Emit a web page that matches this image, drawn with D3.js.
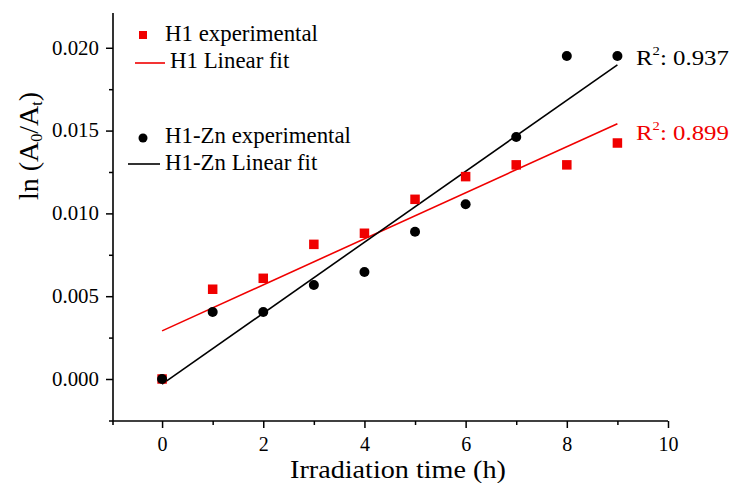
<!DOCTYPE html>
<html>
<head>
<meta charset="utf-8">
<script src="https://cdn.jsdelivr.net/npm/d3@7"></script>
<style>
  body { margin: 0; background: #fff; }
  svg { display: block; }
  text { font-family: "Liberation Serif", "Times New Roman", serif; }
</style>
</head>
<body>
<svg id="chart" width="733" height="483"></svg>
<script>
// Irradiation time (h) and ln(A0/At) for the two samples
const hours = [0, 1, 2, 3, 4, 5, 6, 7, 8, 9];
const h1Values = [0.0000, 0.00542, 0.00608, 0.00813, 0.00880, 0.01085, 0.01222, 0.01293, 0.01293, 0.01425];
const h1ZnValues = [0.0000, 0.00405, 0.00405, 0.00568, 0.00646, 0.00889, 0.01055, 0.01461, 0.01950, 0.01950];

const xTicks = [0, 2, 4, 6, 8, 10];
const xMinorTicks = [1, 3, 5, 7, 9];
const yTicks = [0.000, 0.005, 0.010, 0.015, 0.020];
const yMinorTicks = [0.0025, 0.0075, 0.0125, 0.0175];

const seriesNames = ["H1 experimental", "H1 Linear fit", "H1-Zn experimental", "H1-Zn Linear fit"];
const r2Values = ["0.937", "0.899"];

const RED = "#f00000";
const BLACK = "#000";

const svg = d3.select("#chart");

const x = d3.scaleLinear().domain([-0.97, 10]).range([113, 668]);
const y = d3.scaleLinear().domain([-0.0025, 0.0221]).range([420.4, 13]);
const axisY = 421;

// Scales a text group horizontally so its width equals `target`
function stretch(g, target) {
  const w = g.select("text").node().getBBox().width;
  const s = target / w;
  g.attr("transform", g.attr("data-t") + ` scale(${s},1)`);
}
function label(parent, px, py, target) {
  const g = parent.append("g").attr("data-t", `translate(${px},${py})`)
    .attr("transform", `translate(${px},${py})`);
  const t = g.append("text").attr("x", 0).attr("y", 0);
  return { g, t, fit: () => stretch(g, target) };
}

// Least-squares line through a series
function linearFit(xs, ys) {
  const mx = d3.mean(xs), my = d3.mean(ys);
  let sxy = 0, sxx = 0;
  xs.forEach((xv, i) => { sxy += (xv - mx) * (ys[i] - my); sxx += (xv - mx) ** 2; });
  const slope = sxy / sxx;
  return { slope, intercept: my - slope * mx };
}

// ---- axes ----
const yAxis = svg.append("g").attr("transform", "translate(113,0)")
  .call(d3.axisLeft(y).tickValues(yTicks).tickFormat(d3.format(".3f"))
    .tickSize(7).tickSizeOuter(0).tickPadding(7));
yAxis.select(".domain").remove();
yAxis.selectAll("line").attr("stroke", BLACK).attr("stroke-width", 1.5);
yAxis.selectAll("text").attr("font-size", 20).attr("fill", BLACK)
  .attr("font-family", "Liberation Serif")
  .attr("textLength", 47).attr("lengthAdjust", "spacingAndGlyphs");

const yMinorAxis = svg.append("g").attr("transform", "translate(113,0)")
  .call(d3.axisLeft(y).tickValues(yMinorTicks).tickFormat("").tickSize(4).tickSizeOuter(0));
yMinorAxis.select(".domain").remove();
yMinorAxis.selectAll("line").attr("stroke", BLACK).attr("stroke-width", 1.5);

const xAxis = svg.append("g").attr("transform", `translate(0,${axisY})`)
  .call(d3.axisBottom(x).tickValues(xTicks).tickFormat(d3.format("d"))
    .tickSize(7).tickSizeOuter(0).tickPadding(9));
xAxis.select(".domain").remove();
xAxis.selectAll("line").attr("stroke", BLACK).attr("stroke-width", 1.5);
xAxis.selectAll("text").attr("font-size", 20).attr("fill", BLACK)
  .attr("font-family", "Liberation Serif");

const xMinorAxis = svg.append("g").attr("transform", `translate(0,${axisY})`)
  .call(d3.axisBottom(x).tickValues(xMinorTicks).tickFormat("").tickSize(4).tickSizeOuter(0));
xMinorAxis.select(".domain").remove();
xMinorAxis.selectAll("line").attr("stroke", BLACK).attr("stroke-width", 1.5);

// axis lines (crossing slightly at the origin corner)
svg.append("line").attr("x1", 113).attr("x2", 113).attr("y1", 13).attr("y2", axisY + 4)
  .attr("stroke", BLACK).attr("stroke-width", 1.6);
svg.append("line").attr("x1", 109).attr("x2", 668).attr("y1", axisY).attr("y2", axisY)
  .attr("stroke", BLACK).attr("stroke-width", 1.6);

// axis titles
const xt = label(svg, 290, 478, 216);
xt.t.attr("font-size", 26).text("Irradiation time (h)");
xt.fit();

const yt = svg.append("text")
  .attr("transform", "translate(38,146) rotate(-90)")
  .attr("text-anchor", "middle").attr("font-size", 28);
yt.append("tspan").text("ln (A");
yt.append("tspan").attr("font-size", 16).attr("dy", 4).text("0");
yt.append("tspan").attr("dy", -4).text("/A");
yt.append("tspan").attr("font-size", 16).attr("dy", 4).text("t");
yt.append("tspan").attr("dy", -4).text(")");

// ---- fit lines ----
const fitH1 = linearFit(hours, h1Values);
const fitZn = linearFit(hours, h1ZnValues);
const x0 = d3.min(hours), x1 = d3.max(hours);
[[fitH1, RED], [fitZn, BLACK]].forEach(([f, c]) => {
  svg.append("line")
    .attr("x1", x(x0)).attr("y1", y(f.intercept + f.slope * x0))
    .attr("x2", x(x1)).attr("y2", y(f.intercept + f.slope * x1))
    .attr("stroke", c).attr("stroke-width", 1.6);
});

// ---- markers ----
const sq = 9.5;
svg.append("g").selectAll("rect").data(hours).join("rect")
  .attr("x", (d) => x(d) - sq / 2).attr("y", (d, i) => y(h1Values[i]) - sq / 2)
  .attr("width", sq).attr("height", sq).attr("fill", RED);
svg.append("g").selectAll("circle").data(hours).join("circle")
  .attr("cx", (d) => x(d)).attr("cy", (d, i) => y(h1ZnValues[i]))
  .attr("r", 5).attr("fill", BLACK);

// ---- legend ----
const lg = svg.append("g");
lg.append("rect").attr("x", 139).attr("y", 31).attr("width", 8).attr("height", 8).attr("fill", RED);
const l1 = label(lg, 165, 41, 153); l1.t.attr("font-size", 23).text(seriesNames[0]); l1.fit();
lg.append("line").attr("x1", 135).attr("x2", 165).attr("y1", 63).attr("y2", 63)
  .attr("stroke", RED).attr("stroke-width", 1.6);
const l2 = label(lg, 170, 68, 120); l2.t.attr("font-size", 23).text(seriesNames[1]); l2.fit();
lg.append("circle").attr("cx", 143).attr("cy", 138).attr("r", 4.5).attr("fill", BLACK);
const l3 = label(lg, 165, 143, 186); l3.t.attr("font-size", 23).text(seriesNames[2]); l3.fit();
lg.append("line").attr("x1", 128).attr("x2", 160).attr("y1", 164).attr("y2", 164)
  .attr("stroke", BLACK).attr("stroke-width", 1.6);
const l4 = label(lg, 165, 170, 153); l4.t.attr("font-size", 23).text(seriesNames[3]); l4.fit();

// ---- R² annotations ----
[[r2Values[0], BLACK, 65], [r2Values[1], RED, 140]].forEach(([v, c, py]) => {
  const r = label(svg, 636, py, 93);
  r.t.attr("font-size", 22).attr("fill", c);
  r.t.append("tspan").text("R");
  r.t.append("tspan").attr("font-size", 13).attr("dy", -10).text("2");
  r.t.append("tspan").attr("dy", 10).text(": " + v);
  r.fit();
});
</script>
</body>
</html>
